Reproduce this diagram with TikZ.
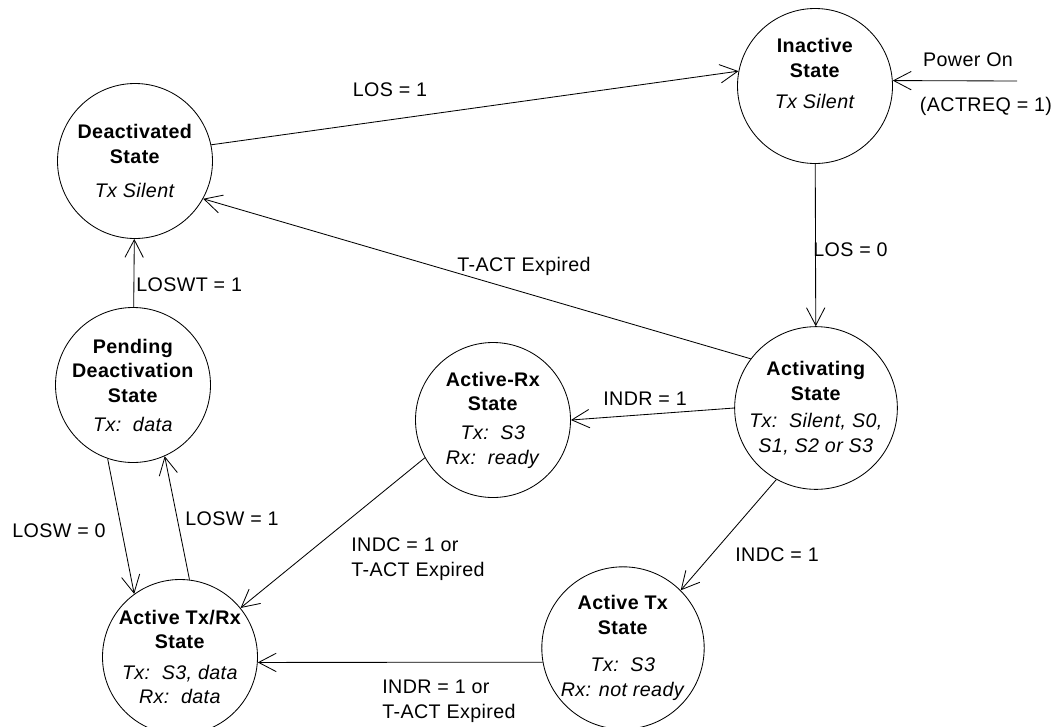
\documentclass[tikz,border=0pt]{standalone}
\usepackage{fontspec}
\setmainfont[LetterSpace=2]{Liberation Sans}
\usepackage{tikz}
\usetikzlibrary{arrows.meta}
\usetikzlibrary{positioning}
\tikzstyle{state}=[circle,draw,line width=0.6pt,minimum size=3.875cm,inner sep=0pt,align=center,font=\fontsize{14}{17.5}\selectfont]
\tikzstyle{arr}=[-{Straight Barb[length=4.4mm,width=4.6mm]},draw=black,line width=0.6pt]
\tikzstyle{lbl}=[inner sep=0pt,font=\fontsize{14}{17.5}\selectfont]

\begin{document}
\begin{tikzpicture}
    \useasboundingbox (0,0) rectangle (26.475,-18.15);
    \node[state] (D) at (3.375,-4.025) {\textbf{Deactivated}\\ \textbf{State}\\[7pt] \textit{Tx Silent}};
    \node[state] (I) at (20.375,-2.15) {\textbf{Inactive}\\ \textbf{State}\\[5pt] \textit{Tx Silent}\\ ~};
    \node[state] (A) at (20.4,-10.2) {\textbf{Activating}\\ \textbf{State}\\[2pt] \textit{Tx:~~Silent, S0,}\\ \textit{S1, S2 or S3}};
    \node[state] (R) at (12.325,-10.5) {\textbf{Active-Rx}\\ \textbf{State}\\[3pt] \textit{Tx:~~S3}\\ \textit{Rx:~~ready}};
    \node[state] (P) at (3.325,-9.625) {\textbf{Pending}\\ \textbf{Deactivation}\\ \textbf{State}\\[3pt] \textit{Tx:~~data}};
    \node[state] (TR) at (4.5,-16.425) {\textbf{Active Tx/Rx}\\ \textbf{State}\\[4pt] \textit{Tx:~~S3, data}\\ \textit{Rx:~~data}};
    \node[state] (T) at (15.575,-16.2) {\textbf{Active Tx}\\ \textbf{State}\\[9pt] \textit{Tx:~~S3}\\ \textit{Rx: not ready}};
    \coordinate (pwr) at (25.425,-2.025);
    \draw[arr] (D.12) -- (I.169);
    \draw[arr] (pwr) -- (I.4);
    \draw[arr] (I) -- (A);
    \draw[arr] (A.143) -- (D.-29);
    \draw[arr] (A.180) -- (R.0);
    \draw[arr] (A.241) -- (T.45.5);
    \draw[arr] (T.190) -- (TR.-4);
    \draw[arr] (R.209.6) -- (TR.39.5);
    \draw[arr] (P) -- (D);
    \draw[arr] (P.251) -- (TR.126);
    \draw[arr] (TR.83) -- (P.294);
    \node[lbl] (l1) at (9.75,-2.25) {LOS = 1};
    \node[lbl] (l2) at (24.2,-1.5) {Power On};
    \node[lbl] (l3) at (24.65,-2.65) {(ACTREQ = 1)};
    \node[lbl,anchor=west] (l4) at (20.325,-6.25) {LOS = 0};
    \node[lbl] (l5) at (13.1,-6.65) {T-ACT Expired};
    \node[lbl,anchor=west] (l6) at (3.4,-7.125) {LOSWT = 1};
    \node[lbl] (l7) at (1.475,-13.275) {LOSW = 0};
    \node[lbl] (l8) at (5.8,-12.975) {LOSW = 1};
    \node[lbl,align=left] (l9) at (10.45,-13.975) {INDC = 1 or\\ T-ACT Expired};
    \node[lbl,align=left] (l10) at (11.225,-17.525) {INDR = 1 or\\ T-ACT Expired};
    \node[lbl] (l11) at (16.125,-9.975) {INDR = 1};
    \node[lbl] (l12) at (19.425,-13.875) {INDC = 1};
\end{tikzpicture}
\end{document}
